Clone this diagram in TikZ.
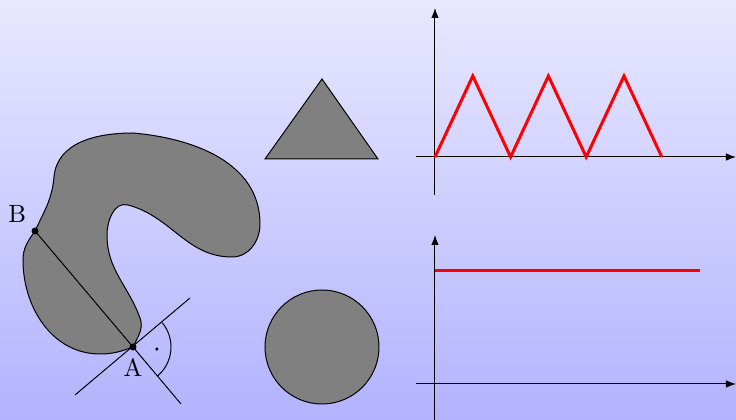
\documentclass[tikz,border=0pt]{standalone}
\usetikzlibrary{arrows.meta,positioning}
\begin{document}
\begin{tikzpicture}[x=0.4pt,y=0.4pt,>={Latex[length=4pt,width=3pt]},
  shapefill/.style={draw,fill=gray},
  signal/.style={red,line width=1.2pt}]
\useasboundingbox (0,0) rectangle (736,420);
\shade[top color=blue!9,bottom color=blue!30] (0,0) rectangle (736,420);
% blob with chord and tangent
\coordinate (B) at (35,189);
\coordinate (A) at (133,73);
\coordinate (E) at (181,16);
\coordinate (T1) at (75,25);
\coordinate (T2) at (190,122);
\filldraw[shapefill] (B) to[out=65,in=265] (54,243) to[out=85,in=180] (133,287)
  to[out=-5,in=90] (260,196) to[out=-90,in=0] (232,163) to[out=180,in=-15] (128,215)
  to[out=165,in=90] (107,185) to[out=-90,in=110] (140,102) to[out=-70,in=65] (A)
  to[out=-160,in=0] (100,66) to[out=180,in=-90] (23,160) to[out=90,in=-125] (B) -- cycle;
\draw (B) -- (A) -- (E);
\draw (T1) -- (T2);
\draw ([shift={(40:38)}]A) arc[start angle=40,end angle=-50,radius=38];
\fill (A) ++(-5:24) circle (0.7pt);
\fill (A) circle (1.4pt) (B) circle (1.4pt);
\node[below=1.2pt of A,inner sep=3.33pt] (lA) {A};
\node[above left=0pt of B] (lB) {B};
% triangle and circle
\filldraw[shapefill] (265,261) -- (378,261) -- (322,341) -- cycle;
\filldraw[shapefill] (322,73) circle (57);
% upper plot
\draw[->] (416,263) -- (736,263);
\draw[->] (435,225) -- (435,412);
\draw[signal] (435,263) \foreach \i in {0,1,2}{ -- ++(37.8,81) -- ++(37.8,-81)};
% lower plot
\draw[->] (416,36) -- (736,36);
\draw[->] (435,0) -- (435,185);
\draw[signal] (435,149) -- (700,149);
\end{tikzpicture}
\end{document}
